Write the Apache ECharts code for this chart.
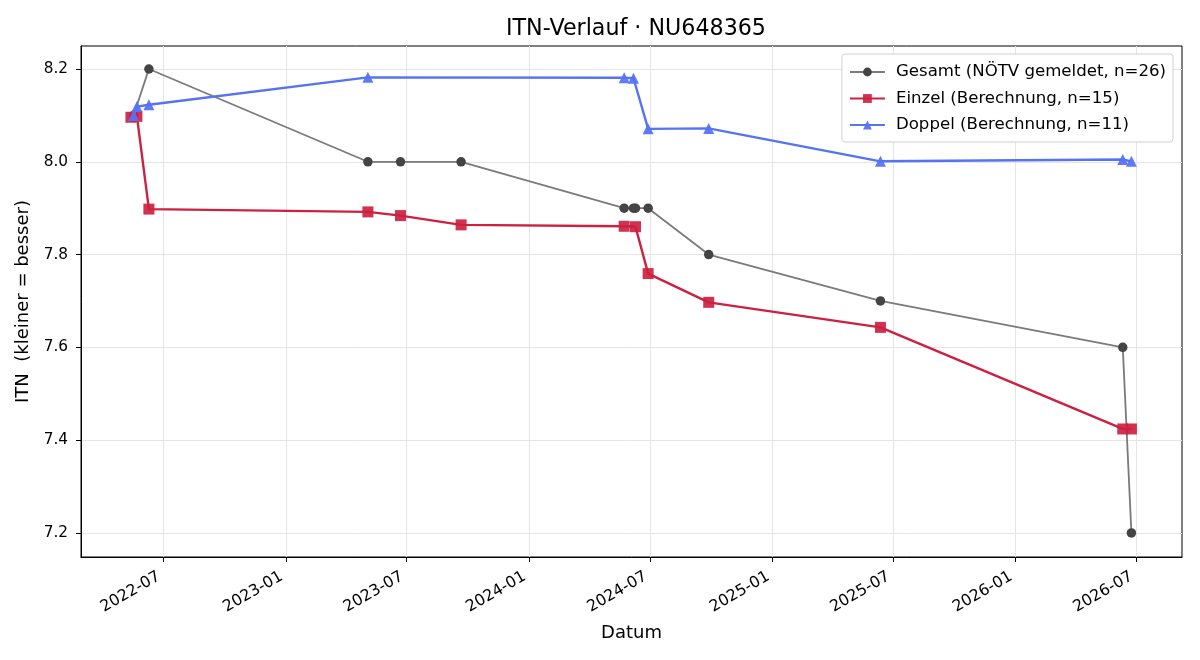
<!DOCTYPE html>
<html>
<head>
<meta charset="utf-8">
<title>ITN-Verlauf</title>
<script src="https://cdn.jsdelivr.net/npm/echarts@6/dist/echarts.min.js"></script>
<style>
  html, body { margin: 0; padding: 0; background: #fff; }
  #chart { width: 1200px; height: 660px; }
</style>
</head>
<body>
<div id="chart"></div>
<script>
// Gesamt (NÖTV gemeldet)
var gesamtDates = ['2022-05-17', '2022-06-09', '2023-05-04', '2023-06-22', '2023-09-21', '2024-05-23', '2024-06-06', '2024-06-09', '2024-06-28', '2024-09-27', '2025-06-12', '2026-06-11', '2026-06-24'];
var gesamtValues = [8.1, 8.2, 8.0, 8.0, 8.0, 7.9, 7.9, 7.9, 7.9, 7.8, 7.7, 7.6, 7.2];

// Einzel (Berechnung)
var einzelDates = ['2022-05-13', '2022-05-22', '2022-06-09', '2023-05-04', '2023-06-22', '2023-09-21', '2024-05-23', '2024-06-09', '2024-06-28', '2024-09-27', '2025-06-12', '2026-06-11', '2026-06-24'];
var einzelValues = [8.096, 8.098, 7.898, 7.892, 7.884, 7.864, 7.861, 7.860, 7.759, 7.697, 7.643, 7.424, 7.424];

// Doppel (Berechnung)
var doppelDates = ['2022-05-17', '2022-05-22', '2022-06-09', '2023-05-04', '2024-05-23', '2024-06-06', '2024-06-28', '2024-09-27', '2025-06-12', '2026-06-11', '2026-06-24'];
var doppelValues = [8.100, 8.119, 8.123, 8.182, 8.181, 8.180, 8.071, 8.072, 8.001, 8.005, 8.001];

var xTickDates = ['2022-07-01', '2023-01-01', '2023-07-01', '2024-01-01', '2024-07-01', '2025-01-01', '2025-07-01', '2026-01-01', '2026-07-01'];
var yTicks = [7.2, 7.4, 7.6, 7.8, 8.0, 8.2];

var legendNames = ['Gesamt (NÖTV gemeldet, n=26)', 'Einzel (Berechnung, n=15)', 'Doppel (Berechnung, n=11)'];

function ts(d) {
  return Date.UTC(+d.slice(0, 4), +d.slice(5, 7) - 1, +d.slice(8, 10));
}
function pairs(dates, vals) {
  return dates.map(function (d, i) { return [ts(d), vals[i]]; });
}

var font = 'DejaVu Sans';
var chart = echarts.init(document.getElementById('chart'));
var xTicks = xTickDates.map(ts);

var option = {
  animation: false,
  textStyle: { fontFamily: font },
  title: {
    text: 'ITN-Verlauf · NU648365',
    left: 631,
    textAlign: 'center',
    top: 13,
    textStyle: { fontFamily: font, fontSize: 22.2, fontWeight: 'normal', color: '#000' }
  },
  legend: {
    data: legendNames,
    orient: 'vertical',
    right: 27,
    top: 54,
    padding: [8, 7, 7, 7],
    itemGap: 6.5,
    itemWidth: 35,
    itemHeight: 11,
    backgroundColor: '#fff',
    borderColor: '#d0d0d0',
    borderWidth: 1,
    borderRadius: 3,
    textStyle: { fontFamily: font, fontSize: 16.6, color: '#000', lineHeight: 20, padding: [0, 0, 0, 6] }
  },
  grid: {
    left: 81,
    right: 18,
    top: 46,
    bottom: 103,
    show: true,
    borderColor: '#000',
    borderWidth: 1
  },
  xAxis: {
    type: 'value',
    min: ts('2022-02-27'),
    max: ts('2026-09-08'),
    name: 'Datum',
    nameLocation: 'middle',
    nameGap: 67,
    nameTextStyle: { fontFamily: font, fontSize: 18, color: '#000' },
    axisLine: { show: true, onZero: false, lineStyle: { color: '#000', width: 1 } },
    axisTick: { show: true, length: 5, lineStyle: { color: '#000' }, customValues: xTicks },
    axisLabel: {
      rotate: 30,
      margin: 16,
      padding: [0, 5, 0, 0],
      fontFamily: font,
      fontSize: 15.8,
      color: '#000',
      customValues: xTicks,
      formatter: function (v) {
        var d = new Date(v);
        var m = d.getUTCMonth() + 1;
        return d.getUTCFullYear() + '-' + (m < 10 ? '0' + m : m);
      }
    },
    splitLine: { show: true, lineStyle: { color: '#e5e5e5', width: 1 } }
  },
  yAxis: {
    type: 'value',
    min: 7.148,
    max: 8.2496,
    name: 'ITN  (kleiner = besser)',
    nameLocation: 'middle',
    nameGap: 43,
    nameTextStyle: { fontFamily: font, fontSize: 18, color: '#000' },
    axisLine: { show: true, onZero: false, lineStyle: { color: '#000', width: 1 } },
    axisTick: { show: true, length: 5, lineStyle: { color: '#000' }, customValues: yTicks },
    axisLabel: {
      margin: 13,
      fontFamily: font,
      fontSize: 15.3,
      color: '#000',
      customValues: yTicks,
      formatter: function (v) { return v.toFixed(1); }
    },
    splitLine: { show: true, lineStyle: { color: '#e5e5e5', width: 1 } }
  },
  series: [
    {
      name: legendNames[0],
      type: 'line',
      data: pairs(gesamtDates, gesamtValues),
      symbol: 'circle',
      symbolSize: 9.5,
      z: 2,
      lineStyle: { color: '#7a7a7a', width: 1.8 },
      itemStyle: { color: '#444444', opacity: 1 }
    },
    {
      name: legendNames[1],
      type: 'line',
      data: pairs(einzelDates, einzelValues),
      symbol: 'rect',
      symbolSize: 11,
      z: 3,
      lineStyle: { color: '#cc2140', width: 2.4 },
      itemStyle: { color: '#cc2140', opacity: 0.92 }
    },
    {
      name: legendNames[2],
      type: 'line',
      data: pairs(doppelDates, doppelValues),
      symbol: 'triangle',
      symbolSize: 11,
      z: 4,
      lineStyle: { color: '#5573f3', width: 2.4 },
      itemStyle: { color: '#5573f3', opacity: 0.95 }
    }
  ]
};

chart.setOption(option);
</script>
</body>
</html>
